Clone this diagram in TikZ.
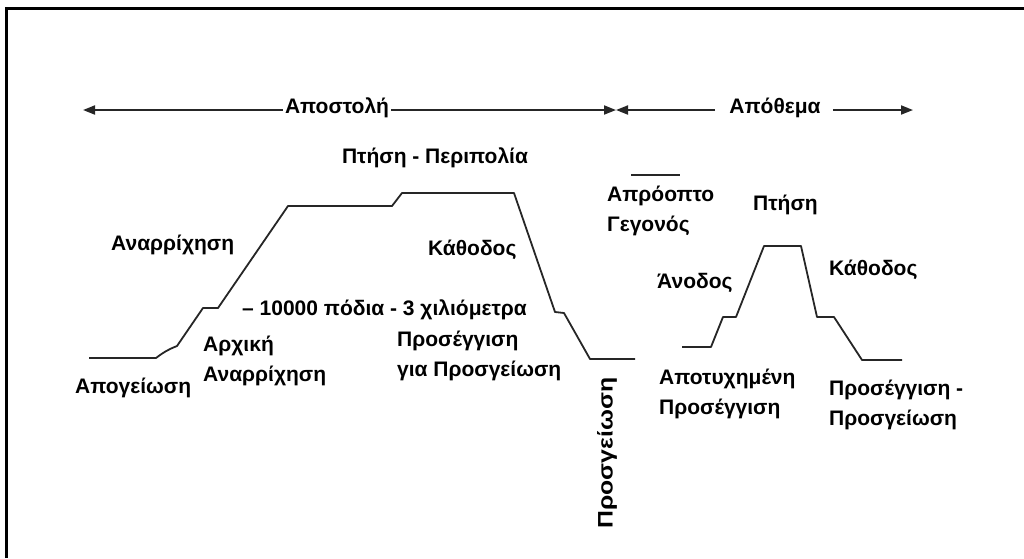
\documentclass[tikz,border=0pt]{standalone}
\usepackage{fontspec}
\setmainfont{Liberation Sans}
\usetikzlibrary{arrows.meta}

\begin{document}
\begin{tikzpicture}[x=1pt,y=-1pt,
  lbl/.style={font=\bfseries\fontsize{21}{30}\selectfont, inner sep=0pt, text=black, align=left},
  prof/.style={line width=1.8pt, draw=black!85, line join=round},
  spanline/.style={line width=1.8pt, draw=black!85, -{Triangle[length=12pt,width=9pt]}},
  frameline/.style={line width=2.5pt, draw=black}]
\useasboundingbox (0,0) rectangle (1024,558);

% frame
\draw[frameline] (6.5,558) -- (6.5,8.5) -- (1024,8.5);

% phase spans
\node[lbl] (apost) at (337,108) {Αποστολή};
\node[lbl] (apoth) at (775,108) {Απόθεμα};
\coordinate (aL) at (83,110);
\coordinate (aR) at (616,110);
\coordinate (bL) at (616,110);
\coordinate (bR) at (913,110);
\draw[spanline] (apost.west |- aL) ++(-2,0) -- (aL);
\draw[spanline] (apost.east |- aR) ++(2,0) -- (aR);
\draw[spanline] (apoth.west |- bL) ++(-14,0) -- (bL);
\draw[spanline] (apoth.east |- bR) ++(12,0) -- (bR);

% mission profile
\coordinate (m0) at (89,358);
\coordinate (m1) at (156,358);
\coordinate (m2) at (177,346);
\coordinate (m3) at (203,308);
\coordinate (m4) at (218,308);
\coordinate (m5) at (288,206);
\coordinate (m6) at (392,206);
\coordinate (m7) at (402,193);
\coordinate (m8) at (514,193);
\coordinate (m9) at (555,312);
\coordinate (m10) at (564,313);
\coordinate (m11) at (590,359);
\coordinate (m12) at (635,359);
\draw[prof] (m0) -- (m1) to[bend left=8] (m2) -- (m3) -- (m4) -- (m5) -- (m6) -- (m7) -- (m8) -- (m9) -- (m10) -- (m11) -- (m12);

% reserve profile
\coordinate (r0) at (682,347);
\coordinate (r1) at (711,347);
\coordinate (r2) at (723,317);
\coordinate (r3) at (736,317);
\coordinate (r4) at (764,246);
\coordinate (r5) at (801,246);
\coordinate (r6) at (817,317);
\coordinate (r7) at (834,317);
\coordinate (r8) at (862,360);
\coordinate (r9) at (902,360);
\draw[prof] (r0) -- (r1) -- (r2) -- (r3) -- (r4) -- (r5) -- (r6) -- (r7) -- (r8) -- (r9);

% mark above the unforeseen-event label
\coordinate (u0) at (631,175);
\coordinate (u1) at (680,175);
\draw[line width=1.5pt, draw=black!85] (u0) -- (u1);

% labels
\node[lbl] (cruise) at (435,158) {Πτήση - Περιπολία};
\node[lbl, anchor=west] (climb) at (111,245) {Αναρρίχηση};
\node[lbl, anchor=west] (alt) at (242,310) {– 10000 πόδια - 3 χιλιόμετρα};
\node[lbl, anchor=west] (initclimb) at (203,361) {Αρχική\\Αναρρίχηση};
\node[lbl, anchor=west] (takeoff) at (75,388) {Απογείωση};
\node[lbl, anchor=west] (descent) at (428,250) {Κάθοδος};
\node[lbl, anchor=west] (approach) at (397,356) {Προσέγγιση\\για Προσγείωση};
\node[lbl, rotate=90] (landing) at (607,453) {\scalebox{1.18}[1]{Προσγείωση}};
\node[lbl, anchor=west] (event) at (607,211) {Απρόοπτο\\Γεγονός};
\node[lbl, anchor=west] (flight) at (753,205) {Πτήση};
\node[lbl, anchor=west] (ascent) at (657,283) {Άνοδος};
\node[lbl, anchor=west] (descent2) at (829,270) {Κάθοδος};
\node[lbl, anchor=west] (missed) at (659,394) {Αποτυχημένη\\Προσέγγιση};
\node[lbl, anchor=west] (apland) at (829,405) {Προσέγγιση -\\Προσγείωση};
\end{tikzpicture}
\end{document}
